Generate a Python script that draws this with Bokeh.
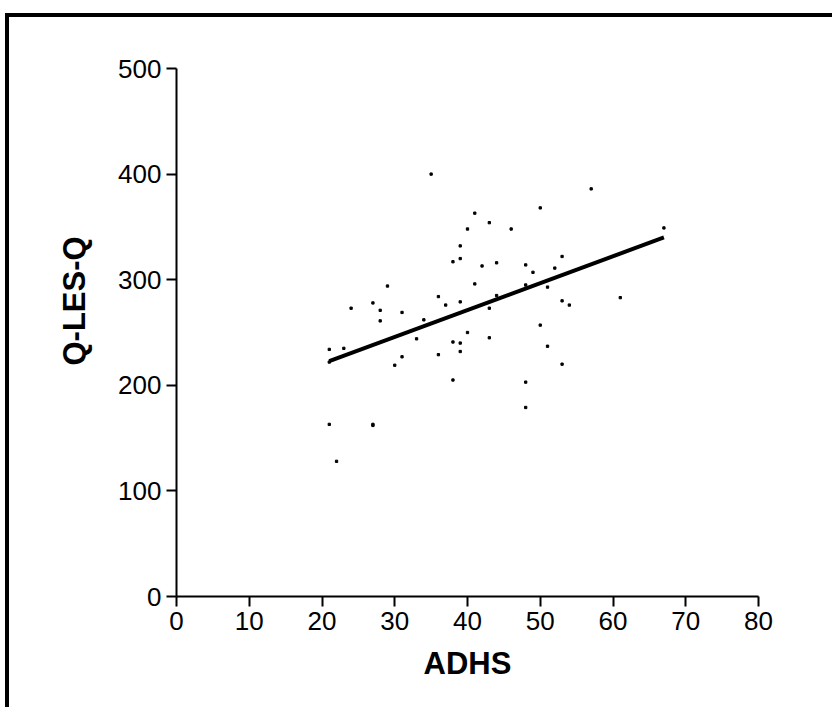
from bokeh.plotting import figure
from bokeh.models import Range1d, FixedTicker, Title
from bokeh.embed import file_html
from bokeh.resources import INLINE

# ADHS score vs. quality of life (Q-LES-Q)
adhs = [35, 41, 40, 39, 39, 38, 42, 41, 29, 36,
        57, 50, 43, 46, 67, 44, 48, 53, 49, 52,
        48, 51, 44, 61, 24, 27, 28, 28, 31, 37,
        39, 34, 40, 33, 38, 39, 39, 36, 21, 23,
        21, 31, 30, 38, 43, 53, 54, 50, 43, 51,
        53, 48, 48, 21, 22, 27, 27]
qlesq = [400, 363, 348, 332, 320, 317, 313, 296, 294, 284,
         386, 368, 354, 348, 349, 316, 314, 322, 307, 311,
         295, 293, 285, 283, 273, 278, 271, 261, 269, 276,
         279, 262, 250, 244, 241, 240, 232, 229, 234, 235,
         222, 227, 219, 205, 273, 280, 276, 257, 245, 237,
         220, 203, 179, 163, 128, 162, 163]

# regression line end points
fit_x = [21, 67]
fit_y = [223, 340]

x_ticks = [0, 10, 20, 30, 40, 50, 60, 70, 80]
y_ticks = [0, 100, 200, 300, 400, 500]

FONT = "Liberation Sans"

p = figure(width=827, height=694, output_backend="svg", toolbar_location=None,
           x_range=Range1d(0, 80), y_range=Range1d(0, 500),
           min_border_left=167, min_border_right=78,
           min_border_top=51, min_border_bottom=115)
p.styles = {"margin-left": "5px", "margin-top": "13px",
            "border-left": "4px solid black", "border-top": "4px solid black"}

p.grid.visible = False
p.outline_line_color = None
p.background_fill_color = "white"
p.border_fill_color = "white"

for ax in (p.xaxis[0], p.yaxis[0]):
    ax.axis_line_width = 2
    ax.axis_line_color = "black"
    ax.major_tick_line_width = 2
    ax.major_tick_line_color = "black"
    ax.major_tick_out = 10
    ax.major_tick_in = 0
    ax.minor_tick_line_color = None
    ax.major_label_text_font = FONT
    ax.major_label_text_font_size = "26px"
    ax.major_label_text_color = "black"
    ax.axis_label_text_font = FONT
    ax.axis_label_text_font_style = "bold"
    ax.axis_label_text_font_size = "31px"
    ax.axis_label_text_color = "black"

p.xaxis[0].ticker = FixedTicker(ticks=x_ticks)
p.yaxis[0].ticker = FixedTicker(ticks=y_ticks)
p.xaxis[0].axis_label = "ADHS"
p.xaxis[0].major_label_standoff = 5
p.xaxis[0].axis_label_standoff = 13
p.yaxis[0].major_label_standoff = 5

# vertical axis title, anchored from the bottom of the axis and raised
p.add_layout(Title(text="Q-LES-Q", align="left", offset=231, standoff=48,
                   text_font=FONT, text_font_style="bold",
                   text_font_size="31px", text_color="black"), "left")

p.scatter(adhs, qlesq, marker="square", size=2.3, color="black")
p.line(fit_x, fit_y, line_width=4, color="black")

open("out.html", "w").write(file_html(p, INLINE))
